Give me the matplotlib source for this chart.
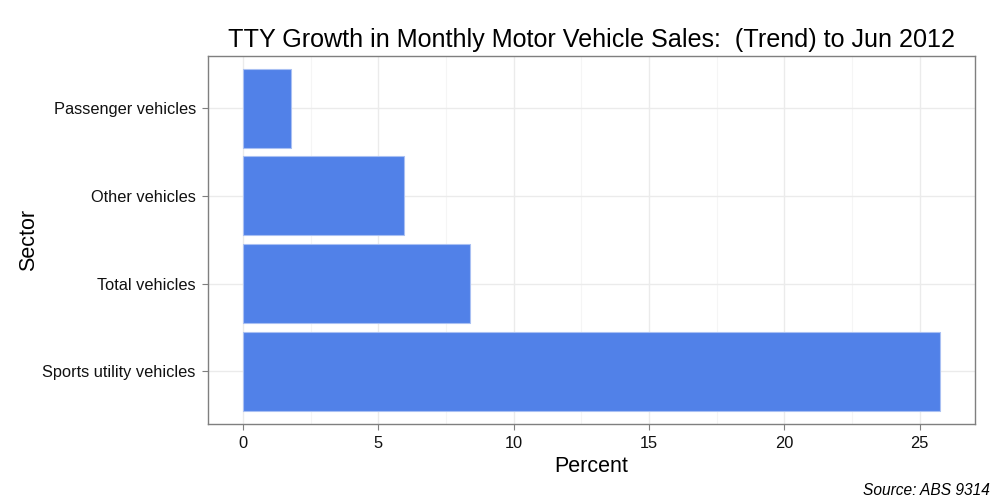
import matplotlib.pyplot as plt
from matplotlib.ticker import MultipleLocator

plt.rcParams['font.family'] = ['Liberation Sans', 'DejaVu Sans']

# values
sectors = ['Sports utility vehicles', 'Total vehicles', 'Other vehicles', 'Passenger vehicles']
percent = [25.75, 8.4, 5.93, 1.78]

fig = plt.figure(figsize=(10, 5), dpi=100)
ax = fig.add_axes([0.2083, 0.152, 0.7664, 0.737])

ypos = list(range(len(sectors)))
ax.barh(ypos, percent, height=0.9, color='#5181E8', edgecolor='#A9C0F3', linewidth=0.8, zorder=3)

xmax = max(percent)
ax.set_xlim(-0.05 * xmax, xmax * 1.05)
ax.set_ylim(-0.6, len(sectors) - 0.4)
ax.set_yticks(ypos)
ax.set_yticklabels(sectors)
ax.xaxis.set_major_locator(MultipleLocator(5))
ax.xaxis.set_minor_locator(MultipleLocator(2.5))

ax.grid(which='major', color='#EBEBEB', linewidth=1.0, zorder=0)
ax.grid(which='minor', axis='x', color='#F5F5F5', linewidth=0.8, zorder=0)
ax.set_axisbelow(True)

for s in ax.spines.values():
    s.set_color('#7F7F7F')
    s.set_linewidth(1.0)
ax.tick_params(which='major', direction='out', length=4.5, color='#7F7F7F', labelsize=11.8, labelcolor='#111111', pad=4.5)
ax.tick_params(which='minor', length=0)

ax.set_xlabel('Percent', fontsize=15.5, labelpad=3)
ax.set_ylabel('Sector', fontsize=15.5, labelpad=2.5)
ax.set_title('TTY Growth in Monthly Motor Vehicle Sales:  (Trend) to Jun 2012', fontsize=18.1, pad=6)

fig.text(0.99, 0.004, 'Source: ABS 9314', ha='right', va='bottom', fontsize=11.2, style='italic')

fig.savefig('out.png', dpi=100)
